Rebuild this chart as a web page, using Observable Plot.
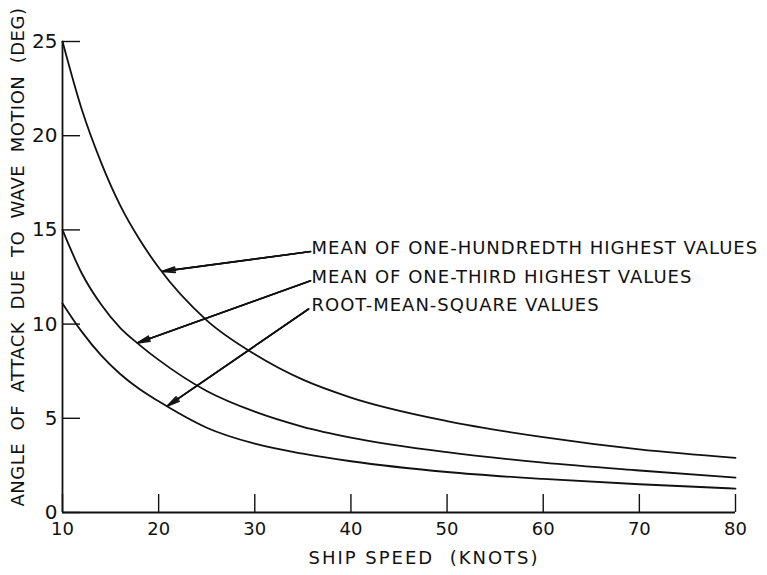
<!DOCTYPE html>
<html>
<head>
<meta charset="utf-8">
<script src="https://cdn.jsdelivr.net/npm/d3@7"></script>
<script src="https://cdn.jsdelivr.net/npm/@observablehq/plot@0.6"></script>
<style>
  html, body { margin: 0; padding: 0; background: #fff; }
  #chart svg { display: block; }
</style>
</head>
<body>
<div id="chart"></div>
<script>
// Ship speed (knots)
const speed = [10, 12, 14, 16, 18, 20, 25, 30, 35, 40, 50, 60, 70, 80];
// Angle of attack (deg) for each statistic
const hundredth = [25.0, 21.4, 18.6, 16.3, 14.5, 13.0, 10.2, 8.4, 7.05, 6.1, 4.85, 4.0, 3.35, 2.9];
const third     = [15.0, 12.7, 11.05, 9.8, 8.9, 8.1, 6.45, 5.35, 4.55, 3.98, 3.2, 2.65, 2.23, 1.85];
const rms       = [11.1, 9.6, 8.35, 7.35, 6.55, 5.9, 4.5, 3.65, 3.12, 2.72, 2.15, 1.78, 1.5, 1.27];

const seriesNames = [
  "MEAN OF ONE-HUNDREDTH HIGHEST VALUES",
  "MEAN OF ONE-THIRD HIGHEST VALUES",
  "ROOT-MEAN-SQUARE VALUES"
];
const seriesValues = [hundredth, third, rms];

// Annotation leader lines (data units): label start -> arrow tip on curve
const labelX = [35.9, 35.9, 35.9];
const labelY = [14.05, 12.5, 11.0];
const leaderX1 = [35.8, 35.8, 35.6];
const leaderY1 = [13.85, 12.3, 10.8];
const tipX = [20.4, 17.8, 20.9];
const tipY = [12.8, 9.0, 5.65];

const xTicks = [10, 20, 30, 40, 50, 60, 70, 80];
const yTicks = [0, 5, 10, 15, 20, 25];
const xLabel = "SHIP SPEED  (KNOTS)";
const yLabel = "ANGLE  OF  ATTACK  DUE  TO  WAVE  MOTION  (DEG)";

const data = seriesNames.flatMap((name, i) =>
  speed.map((s, j) => ({series: name, speed: s, angle: seriesValues[i][j]})));
const leaders = seriesNames.map((name, i) => ({
  name, lx: labelX[i], ly: labelY[i], x1: leaderX1[i], y1: leaderY1[i], x2: tipX[i], y2: tipY[i]
}));

const font = "DejaVu Sans, Liberation Sans, sans-serif";

const chart = Plot.plot({
  width: 767,
  height: 575,
  marginLeft: 62,
  marginRight: 32,
  marginTop: 41,
  marginBottom: 63,
  style: {fontFamily: font, color: "#111", background: "#fff"},
  x: {domain: [10, 80]},
  y: {domain: [0, 25]},
  marks: [
    Plot.ruleX([10], {stroke: "#111", strokeWidth: 1.8}),
    Plot.ruleY([0], {stroke: "#111", strokeWidth: 1.8}),
    Plot.axisX({ticks: xTicks, tickSize: -18, text: null, stroke: "#111", strokeWidth: 1.4, label: null}),
    Plot.axisX({ticks: xTicks, tickSize: 0, tickPadding: 10, fontSize: 18, label: null, fill: "#111"}),
    Plot.axisY({ticks: yTicks, tickSize: -18, text: null, stroke: "#111", strokeWidth: 1.4, label: null}),
    Plot.axisY({ticks: yTicks, tickSize: 0, tickPadding: 5, fontSize: 20, label: null, fill: "#111"}),
    Plot.line(data, {x: "speed", y: "angle", z: "series", stroke: "#111", strokeWidth: 1.8, curve: "monotone-x"}),
    Plot.link(leaders, {x1: "x1", y1: "y1", x2: "x2", y2: "y2", stroke: "#111", strokeWidth: 1.3}),
    Plot.arrow(leaders, {x1: "x1", y1: "y1", x2: "x2", y2: "y2", stroke: "#111", strokeWidth: 1.6, headLength: 12, headAngle: 24}),
    Plot.arrow(leaders, {x1: "x1", y1: "y1", x2: "x2", y2: "y2", stroke: "#111", strokeWidth: 1.6, headLength: 12, headAngle: 10}),
    Plot.text(leaders, {x: "lx", y: "ly", text: "name", textAnchor: "start", fontSize: 18, fill: "#111"}),
    Plot.text([xLabel], {frameAnchor: "bottom", dy: 51, dx: 25, fontSize: 18, fill: "#111"}),
    Plot.text([yLabel], {frameAnchor: "left", textAnchor: "middle", rotate: -90, dx: -44, dy: -20, fontSize: 18, fill: "#111"})
  ]
});

d3.select(chart).selectAll("text").each(function() {
  const t = this.textContent;
  if (seriesNames.includes(t)) this.style.letterSpacing = "1px";
  if (t === xLabel) this.style.letterSpacing = "2px";
  if (t === yLabel) this.style.letterSpacing = "0.5px";
});

document.getElementById("chart").appendChild(chart);
</script>
</body>
</html>
